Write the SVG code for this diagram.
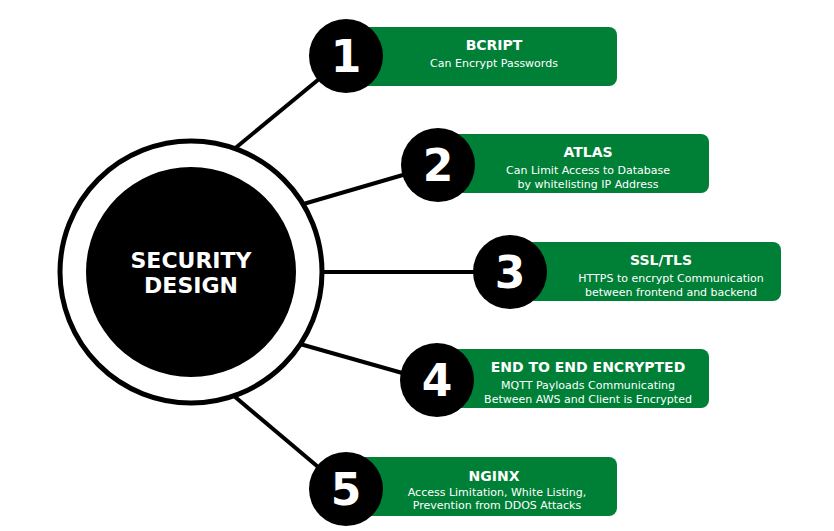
<svg xmlns="http://www.w3.org/2000/svg" width="834" height="531" viewBox="0 0 834 531">
<style>
.conn{stroke:#000;stroke-width:4;fill:none}
.card{fill:#008037}
.num{fill:#000}
.digit{font-family:"DejaVu Sans",sans-serif;font-weight:bold;font-size:44px;fill:#fff;text-anchor:middle}
.title{font-family:"DejaVu Sans",sans-serif;font-weight:bold;font-size:14px;fill:#fff;text-anchor:middle}
.sub{font-family:"DejaVu Sans",sans-serif;font-size:11px;fill:#fff;text-anchor:middle}
.center{font-family:"DejaVu Sans",sans-serif;font-weight:bold;font-size:22px;fill:#fff;text-anchor:middle}
</style>
<rect width="834" height="531" fill="#fff"/>
<g id="connectors">
<line class="conn" x1="233" y1="150" x2="330" y2="70"/>
<line class="conn" x1="300" y1="205" x2="420" y2="170"/>
<line class="conn" x1="318" y1="272" x2="500" y2="272"/>
<line class="conn" x1="300" y1="344" x2="420" y2="378"/>
<line class="conn" x1="234" y1="396" x2="330" y2="477"/>
</g>
<g id="center">
<circle cx="191" cy="272" r="131" fill="#fff" stroke="#000" stroke-width="5"/>
<circle cx="191" cy="272" r="105" fill="#000"/>
<text class="center" x="191" y="268">SECURITY</text>
<text class="center" x="191" y="293">DESIGN</text>
</g>
<g id="node1">
<rect class="card" x="346" y="27" width="271" height="59" rx="8"/>
<circle class="num" cx="346" cy="56" r="37"/>
<text class="digit" x="346" y="72">1</text>
<text class="title" x="494" y="50">BCRIPT</text>
<text class="sub" x="494" y="67">Can Encrypt Passwords</text>
</g>
<g id="node2">
<rect class="card" x="438" y="134" width="271" height="59" rx="8"/>
<circle class="num" cx="438" cy="165" r="37"/>
<text class="digit" x="438" y="181">2</text>
<text class="title" x="588" y="157">ATLAS</text>
<text class="sub" x="588" y="174">Can Limit Access to Database</text>
<text class="sub" x="588" y="188">by whitelisting IP Address</text>
</g>
<g id="node3">
<rect class="card" x="510" y="242" width="271" height="59" rx="8"/>
<circle class="num" cx="510" cy="272" r="37"/>
<text class="digit" x="510" y="288">3</text>
<text class="title" x="661" y="265">SSL/TLS</text>
<text class="sub" x="671" y="282">HTTPS to encrypt Communication</text>
<text class="sub" x="671" y="296">between frontend and backend</text>
</g>
<g id="node4">
<rect class="card" x="437" y="349" width="272" height="59" rx="8"/>
<circle class="num" cx="437" cy="380" r="37"/>
<text class="digit" x="437" y="396">4</text>
<text class="title" x="588" y="372">END TO END ENCRYPTED</text>
<text class="sub" x="588" y="389">MQTT Payloads Communicating</text>
<text class="sub" x="588" y="403">Between AWS and Client is Encrypted</text>
</g>
<g id="node5">
<rect class="card" x="346" y="457" width="271" height="59" rx="8"/>
<circle class="num" cx="346" cy="489" r="37"/>
<text class="digit" x="346" y="505">5</text>
<text class="title" x="494" y="481">NGINX</text>
<text class="sub" x="497" y="496">Access Limitation, White Listing,</text>
<text class="sub" x="497" y="509">Prevention from DDOS Attacks</text>
</g>
</svg>
